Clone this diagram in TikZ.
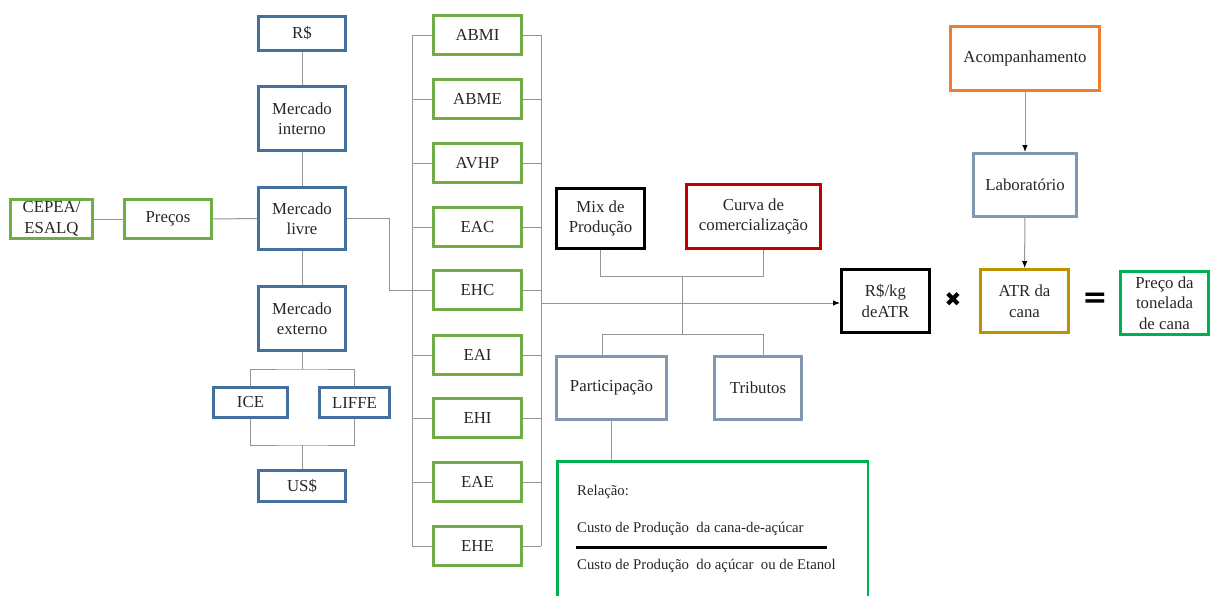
\documentclass[tikz,border=0pt]{standalone}
\usepackage{fontspec}
\setmainfont{Liberation Serif}
\newfontfamily\symfont{DejaVu Sans}
\usetikzlibrary{arrows.meta}
\definecolor{cblue}{HTML}{41719C}
\definecolor{cgreen}{HTML}{70AD47}
\definecolor{cgreenb}{HTML}{00B050}
\definecolor{cred}{HTML}{C00000}
\definecolor{cgblue}{HTML}{8497B0}
\definecolor{corange}{HTML}{ED7D31}
\definecolor{cgold}{HTML}{BF9000}
\definecolor{cgray}{HTML}{959595}
\definecolor{txt}{HTML}{262626}
\begin{document}
\begin{tikzpicture}[x=1pt,y=-1pt,
  box/.style={draw=#1, line width=2.8pt, rectangle, align=center, inner sep=0pt, text=txt, font=\fontsize{16.8}{20.5}\selectfont},
  conn/.style={draw=cgray, line width=1pt},
  arr/.style={conn, -{Latex[length=7pt,width=5.5pt,color=black]}},
  small/.style={anchor=west, inner sep=0pt, text=txt, font=\fontsize{14.8}{17}\selectfont}]
\useasboundingbox (0,0) rectangle (1211,595);
% left blue column
\node[box=cblue, minimum width=87.2pt, minimum height=34.2pt] (rs) at (302,33.5) {R\$};
\node[box=cblue, minimum width=87.2pt, minimum height=64.2pt] (mi) at (302,118.5) {Mercado\\interno};
\node[box=cblue, minimum width=87.2pt, minimum height=62.2pt] (ml) at (302,218.5) {Mercado\\livre};
\node[box=cblue, minimum width=87.2pt, minimum height=64.2pt] (me) at (302,318.5) {Mercado\\externo};
\node[box=cblue, minimum width=74.2pt, minimum height=30.2pt] (ice) at (250.5,402.5) {ICE};
\node[box=cblue, minimum width=70.2pt, minimum height=30.2pt] (liffe) at (354.5,402.5) {LIFFE};
\node[box=cblue, minimum width=87.2pt, minimum height=31.2pt] (us) at (302,486) {US\$};
\node[box=cgreen, minimum width=82.2pt, minimum height=39.2pt] (cepea) at (51.5,219) {CEPEA/\\ESALQ};
\node[box=cgreen, minimum width=87.2pt, minimum height=39.2pt] (precos) at (168,219) {Preços};
% green column
\foreach \n/\t/\y in {g1/ABMI/35, g2/ABME/99, g3/AVHP/163, g4/EAC/227, g5/EHC/290, g6/EAI/355, g7/EHI/418, g8/EAE/482, g9/EHE/546}
  \node[box=cgreen, minimum width=88.2pt, minimum height=39.2pt] (\n) at (477.5,\y) {\t};
% middle
\node[box=black, minimum width=88pt, minimum height=60pt, line width=3pt] (mix) at (600.5,218.5) {Mix de\\Produção};
\node[box=cred, minimum width=134pt, minimum height=64pt, line width=3pt] (curva) at (753.5,216.5) {Curva de\\comercialização};
\node[box=cgblue, minimum width=110.2pt, minimum height=63.2pt] (part) at (611.5,388) {Participação};
\node[box=cgblue, minimum width=87.2pt, minimum height=63.2pt] (trib) at (758,388) {Tributos};
\node[box=cgreenb, minimum width=310.2pt, minimum height=160pt, anchor=north west] (rel) at (556.4,460.4) {};
\node[small] (t1) at (577,492) {Relação:};
\node[small] (t2) at (577,529) {Custo de Produção\ \ da cana-de-açúcar};
\node[small] (t3) at (577,566) {Custo de Produção\ \ do açúcar\ \ ou de Etanol};
\coordinate (f1) at (576,547);
\coordinate (f2) at (827,547);
\draw[line width=3pt, black] (f1) -- (f2);
% right
\node[box=corange, minimum width=149.2pt, minimum height=64.2pt] (acomp) at (1025,58.5) {Acompanhamento};
\node[box=cgblue, minimum width=103.2pt, minimum height=63.2pt] (lab) at (1025,185) {Laboratório};
\node[box=black, minimum width=88pt, minimum height=63pt, line width=3pt] (rskg) at (885.5,301) {R\$/kg\\deATR};
\node[box=cgold, minimum width=88.2pt, minimum height=63.2pt] (atr) at (1024.5,301) {ATR da\\cana};
\node[box=cgreenb, minimum width=88.2pt, minimum height=63.2pt] (preco) at (1164.5,303) {Preço da\\tonelada\\de cana};
\node[font=\symfont\fontsize{20}{20}\selectfont, text=black, inner sep=0pt] (times) at (953,300) {✖};
\node[font=\symfont\bfseries\fontsize{30}{30}\selectfont, text=black, inner sep=0pt] (eq) at (1095,300) {=};
% connectors left
\draw[conn] (rs) -- (mi);
\draw[conn] (mi) -- (ml);
\draw[conn] (ml) -- (me);
\draw[conn] (cepea) -- (precos);
\draw[conn] (precos) -- (ml);
\coordinate (jm1) at (302,369);
\coordinate (jm2) at (302,445);
\draw[conn] (me) -- (jm1);
\draw[conn] (ice.north) |- (jm1) -| (liffe.north);
\draw[conn] (ice.south) |- (jm2) -| (liffe.south);
\draw[conn] (jm2) -- (us);
\draw[conn] (ml.east) -- ++(42,0) |- (g5.west);
% brackets
\coordinate (bl) at (412,0);
\coordinate (br) at (541,0);
\draw[conn] (g1.west -| bl) -- (g9.west -| bl);
\draw[conn] (g1.east -| br) -- (g9.east -| br);
\foreach \n in {g1,g2,g3,g4,g5,g6,g7,g8,g9} {
  \draw[conn] (\n.west) -- (\n.west -| bl);
  \draw[conn] (\n.east) -- (\n.east -| br);
}
% main arrow
\coordinate (as) at (541,303);
\draw[arr] (as) -- (rskg.west |- as);
% mix / curva / participacao / tributos
\coordinate (j1) at (682,276);
\coordinate (j2) at (682,334);
\coordinate (cv) at (763,276);
\coordinate (pl) at (602,334);
\coordinate (pr) at (763,334);
\draw[conn] (mix.south) |- (j1);
\draw[conn] (cv |- curva.south) -- (cv) -- (j1);
\draw[conn] (j1) -- (j2);
\draw[conn] (pl |- part.north) -- (pl) -- (pr) -- (pr |- trib.north);
\draw[conn] (part.south) -- (part.south |- rel.north);
% right arrows
\draw[arr] (acomp) -- (lab);
\draw[arr] (lab) -- (atr);
\end{tikzpicture}
\end{document}
